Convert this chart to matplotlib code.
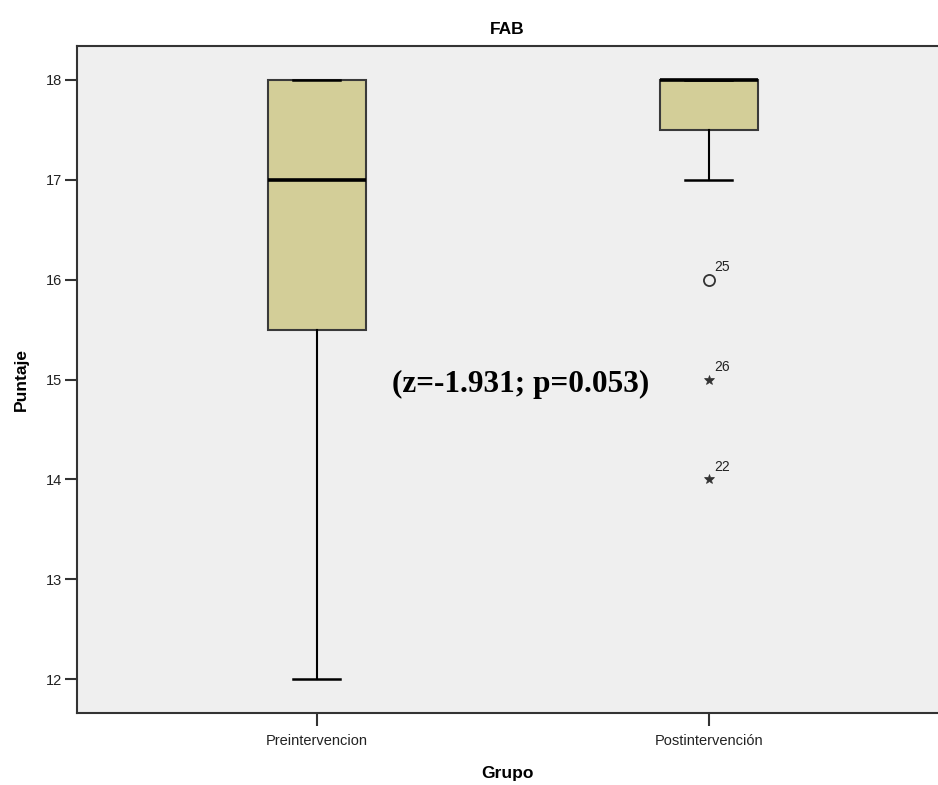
import matplotlib.pyplot as plt

# FAB scores by group
groups = ["Preintervencion", "Postintervención"]
whislo = [12, 17]
q1 = [15.5, 17.5]
med = [17, 18]
q3 = [18, 18]
whishi = [18, 18]

# outlying cases in the post group (value, case number, marker)
out_vals = [16, 15, 14]
out_ids = ["25", "26", "22"]
out_marks = ["o", "*", "*"]

stat_text = "(z=-1.931; p=0.053)"

plt.rcParams['font.family'] = ['Liberation Sans', 'DejaVu Sans']

fig = plt.figure(figsize=(9.38, 7.85), dpi=100)
ax = fig.add_axes([77 / 938, 1 - 713 / 785, (938 - 77) / 938, (713 - 46) / 785])
ax.set_facecolor('#efefef')

stats = []
for i, g in enumerate(groups):
    stats.append(dict(label=g, whislo=whislo[i], q1=q1[i], med=med[i],
                      q3=q3[i], whishi=whishi[i], fliers=[]))

ax.bxp(stats, positions=[0, 1], widths=0.25, patch_artist=True,
       showfliers=False, capwidths=0.12,
       boxprops=dict(facecolor='#d3ce98', edgecolor='#3a3a3a', linewidth=1.5),
       medianprops=dict(color='black', linewidth=2.6),
       whiskerprops=dict(color='black', linewidth=1.5),
       capprops=dict(color='black', linewidth=1.8))

for v, lab, m in zip(out_vals, out_ids, out_marks):
    if m == 'o':
        ax.plot(1, v, 'o', mfc='none', mec='#333333', ms=8, mew=1.3)
    else:
        ax.plot(1, v, '*', color='#333333', ms=7.5, mew=0.5)
    ax.annotate(lab, (1, v), xytext=(4, 6), textcoords='offset points',
                fontsize=10, color='#222222')

ax.text(0.52, 14.95, stat_text, ha='center', va='center', fontsize=22.5,
        fontweight='bold', family=['Liberation Serif', 'DejaVu Serif'])

ax.set_xlim(-0.612, 1.585)
ax.set_ylim(11.66, 18.34)
ax.set_yticks([12, 13, 14, 15, 16, 17, 18])
ax.set_xticks([0, 1])
ax.set_xticklabels(groups)

for s in ['left', 'bottom', 'top']:
    ax.spines[s].set_color('#333333')
    ax.spines[s].set_linewidth(1.5)
ax.spines['right'].set_visible(False)
ax.tick_params(axis='both', length=9, width=1.5, color='#333333',
               labelsize=10.5, labelcolor='#222222', pad=2)
ax.tick_params(axis='x', pad=6)

ax.set_title("FAB", fontsize=12.5, fontweight='bold', pad=9)
ax.set_ylabel("Puntaje", fontsize=12.5, fontweight='bold', labelpad=12)
ax.set_xlabel("Grupo", fontsize=12.5, fontweight='bold', labelpad=13)

fig.savefig('out.png', dpi=100)
